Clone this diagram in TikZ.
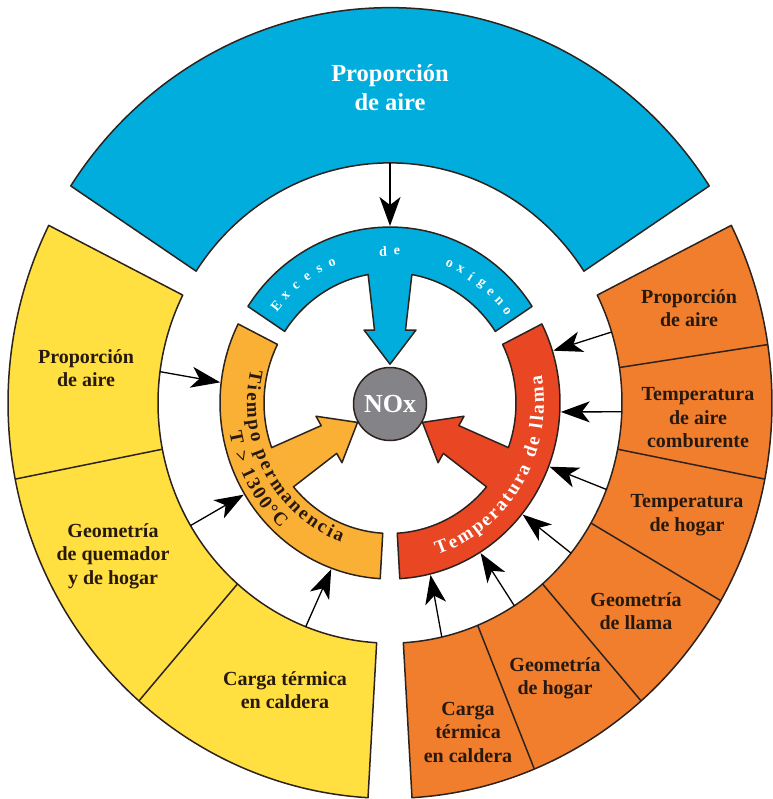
\documentclass[tikz,border=0pt]{standalone}
\usepackage{fontspec}
\setmainfont{Liberation Serif}
\usetikzlibrary{arrows.meta,decorations.text}
\definecolor{cblue}{RGB}{0,173,220}
\definecolor{cyel}{RGB}{255,224,64}
\definecolor{corg}{RGB}{240,126,44}
\definecolor{cgold}{RGB}{249,176,52}
\definecolor{cred}{RGB}{233,70,36}
\definecolor{cgray}{RGB}{132,132,136}
\definecolor{cline}{RGB}{45,35,30}
\definecolor{ctxt}{RGB}{40,25,15}
\newcommand\labfont{\bfseries\fontsize{20}{23.5}\selectfont}
\newcommand\arcfont{\bfseries\fontsize{19}{19}\selectfont}
\newcommand\sectr[5]{%
  \pgfmathsetmacro\rIn{1.035*#4}\pgfmathsetmacro\rOut{1.035*#5}%
  \draw[#1] (#2:#5 and \rOut) arc[start angle=#2,end angle=#3,x radius=#5,y radius=\rOut]
    -- (#3:#4 and \rIn) arc[start angle=#3,end angle=#2,x radius=#4,y radius=\rIn] -- cycle;}
\newcommand\bandarrow[4]{%
  \draw[#1] (#2:170 and 175.95) arc[start angle=#2,end angle=#3,x radius=170,y radius=175.95]
   -- (#3:126 and 130.41) arc[start angle=#3,end angle={#4+10},x radius=126,y radius=130.41]
   -- ({#4+12.4}:72.2 and 74.73) -- ({#4+20.2}:75.1 and 77.73) -- (#4:37.5 and 38.8)
   -- ({#4-20.2}:75.1 and 77.73) -- ({#4-12.4}:72.2 and 74.73)
   -- ({#4-10}:126 and 130.41) arc[start angle={#4-10},end angle=#2,x radius=126,y radius=130.41] -- cycle;}
\begin{document}
\begin{tikzpicture}[x=1pt,y=1pt,
  seg/.style={draw=cline,line width=1.5pt,line join=round},
  divl/.style={draw=cline,line width=1.5pt},
  lab/.style={align=center,font=\labfont,text=ctxt,inner sep=0pt},
  conn/.style={draw=black,line width=1.3pt,-{Stealth[length=29pt,width=21pt,inset=8pt]}},
  exc/.style={text=white,font=\bfseries\fontsize{14}{14}\selectfont,inner sep=0pt}]
\useasboundingbox (0,0) rectangle (772,-799);
\begin{scope}[shift={(390,-403)}]
  % outer ring
  \sectr{seg,fill=cblue}{33.3}{146.7}{232}{382}
  \sectr{seg,fill=cyel}{153.3}{266.7}{232}{382}
  \sectr{seg,fill=corg}{-86.7}{26.7}{232}{382}
  \foreach \a in {191.1,228.9,8.5,-11.1,-30,-48.9,-67.8}
    \draw[divl] (\a:232 and 240.12) -- (\a:382 and 395.37);
  % inner ring with block arrows
  \bandarrow{seg,fill=cblue}{33.3}{146.7}{90}
  \bandarrow{seg,fill=cgold}{153.3}{266.7}{210}
  \bandarrow{seg,fill=cred}{-86.7}{26.7}{-30}
  % NOx
  \node[circle,draw=cline,line width=1.5pt,fill=cgray,minimum size=73pt,inner sep=0pt,
        text=white,font=\bfseries\fontsize{26}{26}\selectfont] (nox) at (0,-1) {NOx};
  % Exceso de oxigeno
  \foreach \a/\c [count=\i] in {140.6/E,135.1/x,129.6/c,124.2/e,118.7/s,113.2/o,92.7/d,87.3/e,66.2/o,61.4/x,56.5/í,51.7/g,46.9/e,42.1/n,37.3/o}
    \node[exc,rotate=\a-90] (ex\i) at (\a:147 and 152.1) {\c};
  % curved texts
  \path[decorate,decoration={text along path,text={|\arcfont|Tiempo permanencia},
        text align={fit to path},text color=ctxt}]
     (167:143 and 148) arc[start angle=167,end angle=250,x radius=143,y radius=148];
  \path[decorate,decoration={text along path,text={|\arcfont|T > 1300°C},
        text align={fit to path},text color=ctxt}]
     (190:163 and 168.7) arc[start angle=190,end angle=228,x radius=163,y radius=168.7];
  \path[decorate,decoration={text along path,text={|\arcfont|Temperatura de llama},
        text align={fit to path},text color=white}]
     (-72:154 and 159.4) arc[start angle=-72,end angle=10,x radius=154,y radius=159.4];
  % connectors
  \foreach \i/\sa/\ea in {b/90/90,y1/172.5/173.3,y2/210.7/211.2,y3/248.7/249.9,o1/17.2/17.2,o2/-2.1/-2.9,o3/-21.1/-21.1,o4/-38.7/-39.1,o5/-57.6/-58,o6/-77.1/-76.3}{
    \coordinate (s\i) at (\sa:232 and 240.12);
    \coordinate (e\i) at (\ea:171 and 176.99);
    \draw[conn] (s\i) -- (e\i);}
\end{scope}
% outer labels
\node[lab,text=white,font=\bfseries\fontsize{24.5}{29}\selectfont] (lb) at (390,-88) {Proporción\\de aire};
\node[lab] (ly1) at (86,-368) {Proporción\\de aire};
\node[lab] (ly2) at (113,-556) {Geometría\\de quemador\\y de hogar};
\node[lab] (ly3) at (285,-690) {Carga térmica\\en caldera};
\node[lab] (lo1) at (689,-308) {Proporción\\de aire};
\node[lab] (lo2) at (698,-418) {Temperatura\\de aire\\comburente};
\node[lab] (lo3) at (687,-515) {Temperatura\\de hogar};
\node[lab] (lo4) at (636,-611) {Geometría\\de llama};
\node[lab] (lo5) at (555,-678) {Geometría\\de hogar};
\node[lab] (lo6) at (468,-732) {Carga\\térmica\\en caldera};
\end{tikzpicture}
\end{document}
